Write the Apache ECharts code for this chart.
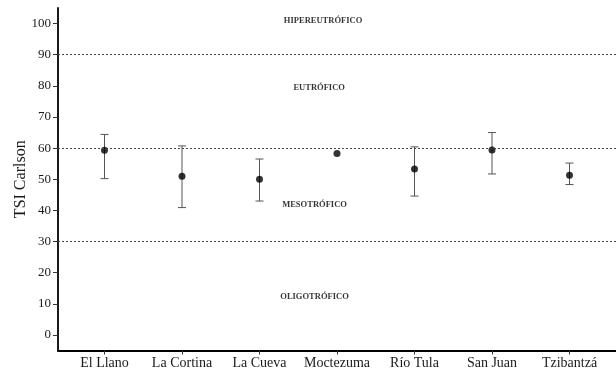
<!DOCTYPE html>
<html>
<head>
<meta charset="utf-8">
<script src="https://cdn.jsdelivr.net/npm/echarts@6/dist/echarts.min.js"></script>
<style>
  html, body { margin: 0; padding: 0; background: #fff; }
  #chart { width: 616px; height: 370px; }
</style>
</head>
<body>
<div id="chart"></div>
<script>
// Sites along the x axis
const categories = ['El Llano', 'La Cortina', 'La Cueva', 'Moctezuma', 'Río Tula', 'San Juan', 'Tzibantzá'];
// Mean TSI (Carlson) per site
const meanTSI = [59.3, 51.0, 50.0, 58.3, 53.3, 59.4, 51.3];
// Lower and upper ends of each site's error bar (null = no bar)
const lowTSI  = [50.2, 40.9, 43.0, null, 44.6, 51.7, 48.3];
const highTSI = [64.4, 60.7, 56.5, null, 60.4, 65.0, 55.2];
// y-axis tick labels
const yTicks = [0, 10, 20, 30, 40, 50, 60, 70, 80, 90, 100];
// Trophic state class limits
const thresholds = [30, 60, 90];
// Trophic state class names and where they are written
const zoneNames = ['HIPEREUTRÓFICO', 'EUTRÓFICO', 'MESOTRÓFICO', 'OLIGOTRÓFICO'];
const zoneX = [3.82, 3.77, 3.71, 3.71];
const zoneY = [101, 79.3, 41.7, 12.3];

const FONT = "'Liberation Serif', 'DejaVu Serif', serif";
const xPos = categories.map((_, i) => i + 1);

const chart = echarts.init(document.getElementById('chart'), null, { renderer: 'canvas' });

chart.setOption({
  animation: false,
  backgroundColor: '#ffffff',
  grid: { left: 58, right: 0, top: 8, bottom: 19.5, containLabel: false, outerBoundsMode: 'none' },
  xAxis: {
    type: 'value',
    min: 0.4,
    max: 7.6,
    splitLine: { show: false },
    axisLine: { show: true, onZero: false, lineStyle: { color: '#000', width: 1.8 } },
    axisTick: { show: true, length: 4, customValues: xPos, lineStyle: { color: '#333', width: 1 } },
    axisLabel: {
      customValues: xPos,
      margin: 6,
      color: '#1a1a1a',
      fontFamily: FONT,
      fontSize: 14,
      formatter: v => categories[Math.round(v) - 1] || ''
    }
  },
  yAxis: {
    type: 'value',
    min: -5,
    max: 105,
    name: 'TSI Carlson',
    nameLocation: 'middle',
    nameGap: 29,
    nameMoveOverlap: false,
    nameTextStyle: { fontFamily: FONT, fontSize: 16, color: '#1a1a1a' },
    splitLine: { show: false },
    axisLine: { show: true, onZero: false, lineStyle: { color: '#000', width: 1.8 } },
    axisTick: { show: true, length: 5, customValues: yTicks, lineStyle: { color: '#333', width: 1 } },
    axisLabel: {
      customValues: yTicks,
      margin: 7,
      color: '#1a1a1a',
      fontFamily: FONT,
      fontSize: 13
    }
  },
  series: [
    {
      // class boundaries
      type: 'line',
      data: [],
      markLine: {
        silent: true,
        symbol: 'none',
        label: { show: false },
        lineStyle: { color: '#444', type: [2, 2], width: 1 },
        data: thresholds.map(v => ({ yAxis: v }))
      }
    },
    {
      // error bars
      type: 'custom',
      data: categories.map((_, i) => [xPos[i], lowTSI[i], highTSI[i]]),
      renderItem: function (params, api) {
        const lo = api.value(1), hi = api.value(2);
        if (lo == null || hi == null || isNaN(lo) || isNaN(hi)) return;
        const x = api.value(0);
        const pLo = api.coord([x, lo]);
        const pHi = api.coord([x, hi]);
        const half = 4;
        const style = { stroke: '#555', lineWidth: 1, fill: null };
        return {
          type: 'group',
          children: [
            { type: 'line', shape: { x1: pLo[0], y1: pLo[1], x2: pHi[0], y2: pHi[1] }, style },
            { type: 'line', shape: { x1: pLo[0] - half, y1: pLo[1], x2: pLo[0] + half, y2: pLo[1] }, style },
            { type: 'line', shape: { x1: pHi[0] - half, y1: pHi[1], x2: pHi[0] + half, y2: pHi[1] }, style }
          ]
        };
      },
      z: 2
    },
    {
      // site means
      type: 'scatter',
      data: categories.map((_, i) => [xPos[i], meanTSI[i]]),
      symbol: 'circle',
      symbolSize: 7,
      itemStyle: { color: '#000' },
      z: 3
    },
    {
      // trophic class names
      type: 'scatter',
      data: zoneNames.map((n, i) => ({ name: n, value: [zoneX[i], zoneY[i]] })),
      symbolSize: 0,
      silent: true,
      label: {
        show: true,
        position: 'inside',
        formatter: p => p.name,
        fontFamily: FONT,
        fontWeight: 'bold',
        fontSize: 8.5,
        color: '#000'
      }
    }
  ]
});
</script>
</body>
</html>
